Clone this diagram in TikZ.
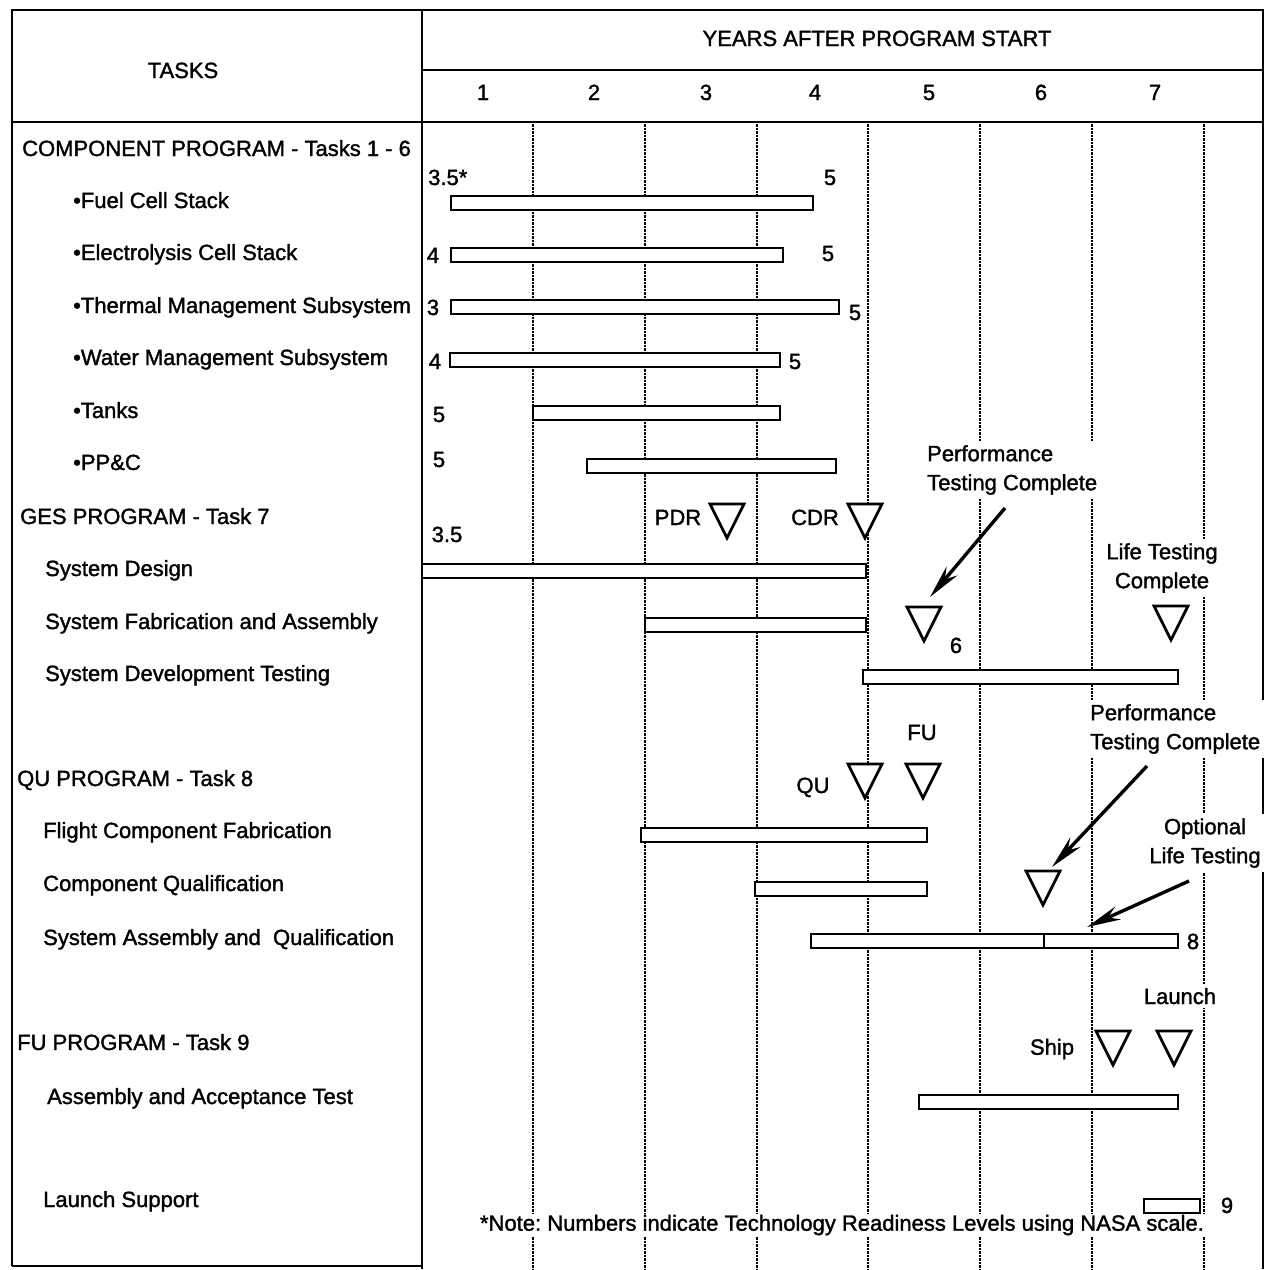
\documentclass[tikz,border=0pt]{standalone}
\usepackage{fontspec}
\setmainfont[FakeBold=1.5]{Liberation Sans}
\usetikzlibrary{arrows.meta}
\frenchspacing

\begin{document}
\begin{tikzpicture}[x=1pt, y=-1pt, >={Stealth[length=34pt, width=14pt]},
    every node/.style={font=\fontsize{22}{29}\selectfont, inner sep=1pt},
    captext/.style={text height=16pt, text depth=0pt},
    task/.style={captext, anchor=west},
    mask/.style={fill=white, inner sep=4pt},
    grid/.style={line width=1.3pt, dash pattern=on 2.5pt off 1pt},
    frame/.style={line width=2.4pt},
    bar/.style={line width=2.6pt, fill=white},
    pointer/.style={->, line width=3.4pt},
    milestone/.pic={
        \draw[line width=2.8pt, fill=white, line join=miter] (0,0) -- (-17,-34) -- (17,-34) -- cycle;
        \coordinate (-apex) at (0,0);}]
    \useasboundingbox (0,0) rectangle (1273,1269);

    % frame and header
    \draw[frame] (12,1266) -- (12,10) -- (1263,10) -- (1263,1269);
    \draw[frame] (12,1266) -- (422,1266);
    \draw[frame] (422,10) -- (422,1269);
    \draw[frame] (422,70) -- (1263,70);
    \draw[frame] (12,122) -- (1263,122);

    \node[captext] (tasks) at (183,70) {TASKS};
    \node[captext] (years) at (877,38) {YEARS AFTER PROGRAM START};
    \node[captext] (yr1) at (483,92) {1};
    \node[captext] (yr2) at (594,92) {2};
    \node[captext] (yr3) at (706,92) {3};
    \node[captext] (yr4) at (815,92) {4};
    \node[captext] (yr5) at (929,92) {5};
    \node[captext] (yr6) at (1041,92) {6};
    \node[captext] (yr7) at (1155,92) {7};

    % year grid
    \draw[grid] (533,124) -- (533,1269);
    \draw[grid] (645,124) -- (645,1269);
    \draw[grid] (757,124) -- (757,1269);
    \draw[grid] (868,124) -- (868,1269);
    \draw[grid] (980,124) -- (980,1269);
    \draw[grid] (1092,124) -- (1092,1269);
    \draw[grid] (1204,124) -- (1204,1269);

    % component program
    \node[task] (comp) at (21,148) {COMPONENT PROGRAM - Tasks 1 - 6};
    \node[task] (fuel) at (72,200) {•Fuel Cell Stack};
    \node[task] (elec) at (72,252) {•Electrolysis Cell Stack};
    \node[task] (therm) at (72,305) {•Thermal Management Subsystem};
    \node[task] (water) at (72,357) {•Water Management Subsystem};
    \node[task] (tanks) at (72,410) {•Tanks};
    \node[task] (ppc) at (72,462) {•PP\&C};

    \draw[bar] (451,196) rectangle (813,210);
    \draw[bar] (451,248) rectangle (783,262);
    \draw[bar] (451,300) rectangle (839,314);
    \draw[bar] (450,353) rectangle (780,367);
    \draw[bar] (533,406) rectangle (780,420);
    \draw[bar] (587,459) rectangle (836,473);

    \node[task] (fuel0) at (427,177) {3.5*};
    \node[captext] (fuel1) at (830,177) {5};
    \node[captext] (elec0) at (433,255) {4};
    \node[captext] (elec1) at (828,253) {5};
    \node[captext] (therm0) at (433,307) {3};
    \node[captext] (therm1) at (855,312) {5};
    \node[captext] (water0) at (435,361) {4};
    \node[captext] (water1) at (795,361) {5};
    \node[captext] (tanks0) at (439,414) {5};
    \node[captext] (ppc0) at (439,459) {5};

    % GES program
    \node[task] (ges) at (19,516) {GES PROGRAM - Task 7};
    \node[task] (sysdes) at (44,568) {System Design};
    \node[task] (sysfab) at (44,621) {System Fabrication and Assembly};
    \node[task] (sysdev) at (44,673) {System Development Testing};

    \draw[bar] (422,564) rectangle (866,578);
    \draw[bar] (645,618) rectangle (866,632);
    \draw[bar] (863,670) rectangle (1178,684);

    \node[captext] (sysdes0) at (447,534) {3.5};
    \node[captext] (pdr) at (678,517) {PDR};
    \pic (pdrm) at (727,538) {milestone};
    \node[captext] (cdr) at (815,517) {CDR};
    \pic (cdrm) at (865,538) {milestone};
    \node[mask, align=left, anchor=west] (perfA) at (923,470) {Performance\\Testing Complete};
    \pic (perfAm) at (924,641) {milestone};
    \node[captext] (sysfab1) at (956,645) {6};
    \node[mask, align=center] (lifeA) at (1162,568) {Life Testing\\Complete};
    \pic (lifeAm) at (1171,640) {milestone};

    \coordinate (perfA tail) at (1005,508);
    \coordinate (perfA tip) at (930,597);
    \draw[pointer] (perfA tail) -- (perfA tip);

    % QU program
    \node[task] (qu) at (16,778) {QU PROGRAM - Task 8};
    \node[task] (flight) at (42,830) {Flight Component Fabrication};
    \node[task] (compq) at (42,883) {Component Qualification};
    \node[task] (sysasm) at (42,937) {System Assembly and\ \ Qualification};

    \draw[bar] (641,828) rectangle (927,842);
    \draw[bar] (755,882) rectangle (927,896);
    \draw[bar] (811,934) rectangle (1178,948);
    \draw[line width=2pt] (1044,934) -- (1044,948);

    \node[captext] (qul) at (813,785) {QU};
    \pic (qum) at (865,798) {milestone};
    \node[captext] (ful) at (922,732) {FU};
    \pic (fum) at (923,798) {milestone};
    \node[mask, align=left, anchor=west] (perfB) at (1086,729) {Performance\\Testing Complete};
    \pic (perfBm) at (1043,905) {milestone};
    \node[mask, align=center] (optB) at (1205,843) {Optional\\Life Testing};
    \node[captext] (sysasm1) at (1193,941) {8};

    \coordinate (perfB tail) at (1147,766);
    \coordinate (perfB tip) at (1052,867);
    \draw[pointer] (perfB tail) -- (perfB tip);
    \coordinate (optB tail) at (1189,881);
    \coordinate (optB tip) at (1087,927);
    \draw[pointer] (optB tail) -- (optB tip);

    % FU program
    \node[task] (fu) at (16,1042) {FU PROGRAM - Task 9};
    \node[task] (assy) at (46,1096) {Assembly and Acceptance Test};
    \node[task] (lsup) at (42,1199) {Launch Support};

    \node[mask, inner sep=1pt] (note) at (842,1225) {*Note: Numbers indicate Technology Readiness Levels using NASA scale.};

    \draw[bar] (919,1095) rectangle (1178,1109);
    \draw[bar] (1144,1199) rectangle (1200,1213);

    \node (ship) at (1052,1049) {Ship};
    \pic (shipm) at (1113,1065) {milestone};
    \node[mask, captext] (launch) at (1180,996) {Launch};
    \pic (launchm) at (1174,1065) {milestone};
    \node[captext] (lsup1) at (1227,1205) {9};
\end{tikzpicture}
\end{document}
